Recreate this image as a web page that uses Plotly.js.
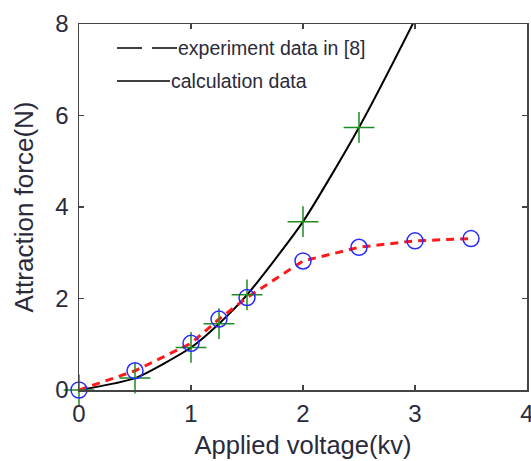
<!DOCTYPE html>
<html><head><meta charset="utf-8">
<script src="https://cdn.plot.ly/plotly-3.0.1.min.js"></script>
<style>body{margin:0;background:#fff;overflow:hidden}#c{width:531px;height:461px}</style>
</head><body><div id="c"></div>
<script>
const expX = [0, 0.5, 1, 1.25, 1.5, 2, 2.5, 3, 3.5];
const expY = [0, 0.42, 1.02, 1.55, 2.02, 2.82, 3.12, 3.26, 3.31];
const calcX = [0, 0.5, 1, 1.25, 1.5, 2, 2.5];
const calcY = [0, 0.26, 0.93, 1.45, 2.08, 3.68, 5.74];
const calcLineX = [0, 0.5, 1, 1.25, 1.5, 2, 2.5, 3, 3.5];
const calcLineY = [0, 0.26, 0.93, 1.45, 2.08, 3.68, 5.74, 8.1, 10.6];
const xTicks = [0, 1, 2, 3, 4];
const yTicks = [0, 2, 4, 6, 8];
const legendNames = ['experiment data in [8]', 'calculation data'];

const txt = '#2a2a3a';
const ff = 'Liberation Sans, Arial, sans-serif';
const font = {family: ff, size: 24, color: txt};
const xTitleFont = {family: ff, size: 25.5, color: txt};
const yTitleFont = {family: ff, size: 26, color: txt};
const legFont = {family: ff, size: 19.5, color: txt};

const traces = [
  {x: calcLineX, y: calcLineY, mode: 'lines', line: {color: '#000', width: 2, shape: 'spline', smoothing: 0.6}, showlegend: false, hoverinfo: 'skip'},
  {x: expX, y: expY, mode: 'lines', line: {color: '#ff1a1a', width: 3, dash: '8px,6px'}, showlegend: false},
  {x: calcX, y: calcY, mode: 'markers', cliponaxis: false, marker: {symbol: 'cross-thin-open', size: 22, color: '#1e8c1e', line: {color: '#1e8c1e', width: 1.5}}, showlegend: false},
  {x: expX, y: expY, mode: 'markers', cliponaxis: false, marker: {symbol: 'circle-open', size: 16, color: '#2a2aff', line: {color: '#2a2aff', width: 1.5}}, showlegend: false}
];

// legend drawn in paper coordinates (plot area: x 79..527, y 24..390)
const px = v => (v - 79) / 448;
const py = v => (390 - v) / 366;
const shapes = [
  {type: 'line', xref: 'paper', yref: 'paper', x0: px(117), x1: px(142), y0: py(48), y1: py(48), line: {color: '#000', width: 1.5}},
  {type: 'line', xref: 'paper', yref: 'paper', x0: px(152), x1: px(177), y0: py(48), y1: py(48), line: {color: '#000', width: 1.5}},
  {type: 'line', xref: 'paper', yref: 'paper', x0: px(117), x1: px(170), y0: py(81), y1: py(81), line: {color: '#000', width: 1.5}}
];
const annotations = [
  {xref: 'paper', yref: 'paper', x: px(176), y: py(48), xanchor: 'left', yanchor: 'middle', text: legendNames[0], showarrow: false, font: legFont},
  {xref: 'paper', yref: 'paper', x: px(169), y: py(81), xanchor: 'left', yanchor: 'middle', text: legendNames[1], showarrow: false, font: legFont}
];

const axisCommon = {
  showgrid: false, zeroline: false, showline: true, mirror: 'ticks',
  linecolor: '#444', linewidth: 1.5, ticks: 'inside', ticklen: 5, tickcolor: '#444', tickwidth: 1.5,
  tickfont: font, ticklabeloverflow: 'allow'
};

const layout = {
  width: 531, height: 461,
  margin: {l: 79, r: 4, t: 24, b: 71},
  paper_bgcolor: '#fff', plot_bgcolor: '#fff',
  font: font,
  xaxis: Object.assign({}, axisCommon, {range: [0, 4], tickvals: xTicks, ticktext: xTicks.map(String),
    ticklabelstandoff: 2,
    title: {text: 'Applied voltage(kv)', font: xTitleFont, standoff: 10}}),
  yaxis: Object.assign({}, axisCommon, {range: [0, 8], tickvals: yTicks, ticktext: yTicks.map(String),
    ticklabelstandoff: 4,
    title: {text: 'Attraction force(N)', font: yTitleFont, standoff: 14}}),
  shapes: shapes,
  annotations: annotations,
  showlegend: false
};

Plotly.newPlot('c', traces, layout, {displayModeBar: false, staticPlot: true});
</script>
</body></html>
